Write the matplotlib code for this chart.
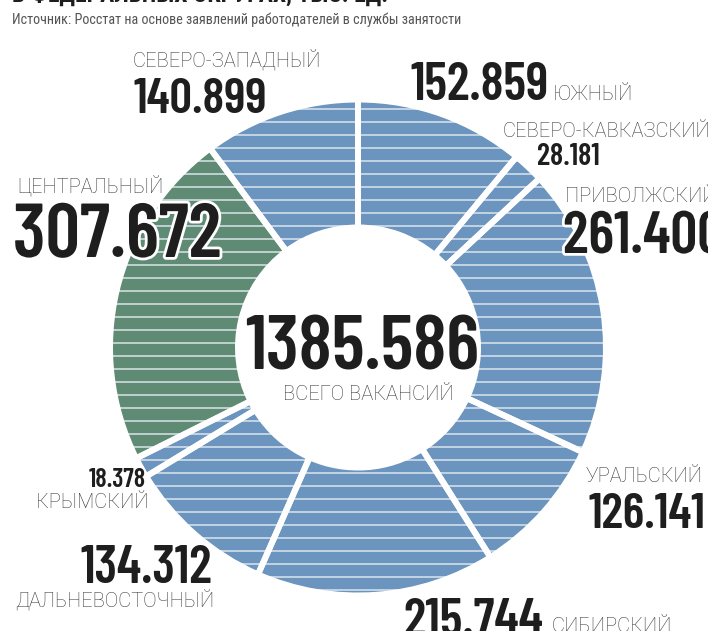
import numpy as np
import matplotlib
matplotlib.use("Agg")
import matplotlib.pyplot as plt
import matplotlib.patheffects as pe

# Vacancies by federal district, thousands (clockwise from 12 o'clock)
districts = ["ЮЖНЫЙ", "СЕВЕРО-КАВКАЗСКИЙ", "ПРИВОЛЖСКИЙ", "УРАЛЬСКИЙ", "СИБИРСКИЙ",
             "ДАЛЬНЕВОСТОЧНЫЙ", "КРЫМСКИЙ", "ЦЕНТРАЛЬНЫЙ", "СЕВЕРО-ЗАПАДНЫЙ"]
vacancies = [152.859, 28.181, 261.400, 126.141, 215.744, 134.312, 18.378, 307.672, 140.899]
highlight = "ЦЕНТРАЛЬНЫЙ"
total_label = "ВСЕГО ВАКАНСИЙ"
source = "Источник: Росстат на основе заявлений работодателей в службы занятости"
title = "В ФЕДЕРАЛЬНЫХ ОКРУГАХ, ТЫС. ЕД."

W, H = 708, 631
BLUE = "#6b94be"
GREEN = "#5f8b74"
NUM_FONT = ["Barlow Condensed", "DejaVu Sans"]
LBL_FONT = ["Roboto", "DejaVu Sans"]
SRC_FONT = ["Roboto Condensed", "Roboto", "DejaVu Sans"]

fig = plt.figure(figsize=(W / 100, H / 100), dpi=100)
ax = fig.add_axes([0, 0, 1, 1])

cx, cy = 358, H - 347.5
gap = 6  # px
R_out, R_in = 245 + gap / 2, 123 - gap / 2
colors = [GREEN if d == highlight else BLUE for d in districts]

wedges, _ = ax.pie(vacancies, colors=colors, startangle=90, counterclock=False,
                   center=(cx, cy), radius=R_out,
                   wedgeprops=dict(width=R_out - R_in, linewidth=0))

# horizontal stripes inside every slice
ys = np.arange(H - 4.7, 0, -13.0)
for w in wedges:
    hl = ax.hlines(ys, 0, W, colors="#e4ecf2", linewidth=1.2, alpha=0.85, zorder=2)
    hl.set_clip_path(w)

# white gaps between slices
ax.pie(vacancies, colors=["none"] * len(vacancies), startangle=90, counterclock=False,
       center=(cx, cy), radius=R_out,
       wedgeprops=dict(width=R_out - R_in, edgecolor="white",
                       linewidth=gap * 0.72, zorder=3))

ax.set_xlim(0, W)
ax.set_ylim(0, H)
ax.set_aspect("equal")
ax.axis("off")

vals = dict(zip(districts, vacancies))
fmt = lambda v: f"{v:.3f}"
halo = [pe.withStroke(linewidth=4, foreground="white")]


def num(x, y, v, size, ha="left", effects=None):
    ax.text(x, H - y, fmt(v), ha=ha, va="baseline", fontsize=size, family=NUM_FONT,
            fontweight="semibold", color="#1e1e1e", zorder=5, path_effects=effects)


def lbl(x, y, s, size=14.5, ha="left"):
    ax.text(x, H - y, s, ha=ha, va="baseline", fontsize=size, family=LBL_FONT,
            fontweight="light", color="#3c3c3c", zorder=5)


ax.text(12, H - 2, title, ha="left", va="baseline", fontsize=17, family=SRC_FONT,
        fontweight="bold", color="#1e1e1e")
ax.text(12, H - 24, source, ha="left", va="baseline", fontsize=10.2, family=SRC_FONT,
        color="#555555")

lbl(133, 67, "СЕВЕРО-ЗАПАДНЫЙ")
num(133, 113, vals["СЕВЕРО-ЗАПАДНЫЙ"], 36)
num(410, 100, vals["ЮЖНЫЙ"], 38)
lbl(553, 100, "ЮЖНЫЙ")
lbl(503, 137, "СЕВЕРО-КАВКАЗСКИЙ")
num(537, 165, vals["СЕВЕРО-КАВКАЗСКИЙ"], 22)
lbl(565, 202, "ПРИВОЛЖСКИЙ")
num(563, 253, vals["ПРИВОЛЖСКИЙ"], 43, effects=halo)
lbl(17, 193, "ЦЕНТРАЛЬНЫЙ")
num(13, 257, vals["ЦЕНТРАЛЬНЫЙ"], 55, effects=halo)
num(362, 370, sum(vacancies), 55, ha="center")
lbl(368, 400, total_label, ha="center")
num(146, 487, vals["КРЫМСКИЙ"], 19, ha="right")
lbl(148, 508, "КРЫМСКИЙ", ha="right")
num(212, 583, vals["ДАЛЬНЕВОСТОЧНЫЙ"], 38, ha="right")
lbl(15, 607, "ДАЛЬНЕВОСТОЧНЫЙ")
lbl(703, 482, "УРАЛЬСКИЙ", ha="right")
num(705, 528, vals["УРАЛЬСКИЙ"], 36, ha="right")
num(403, 636, vals["СИБИРСКИЙ"], 38)
lbl(552, 632, "СИБИРСКИЙ")

fig.savefig("out.png", dpi=100)
